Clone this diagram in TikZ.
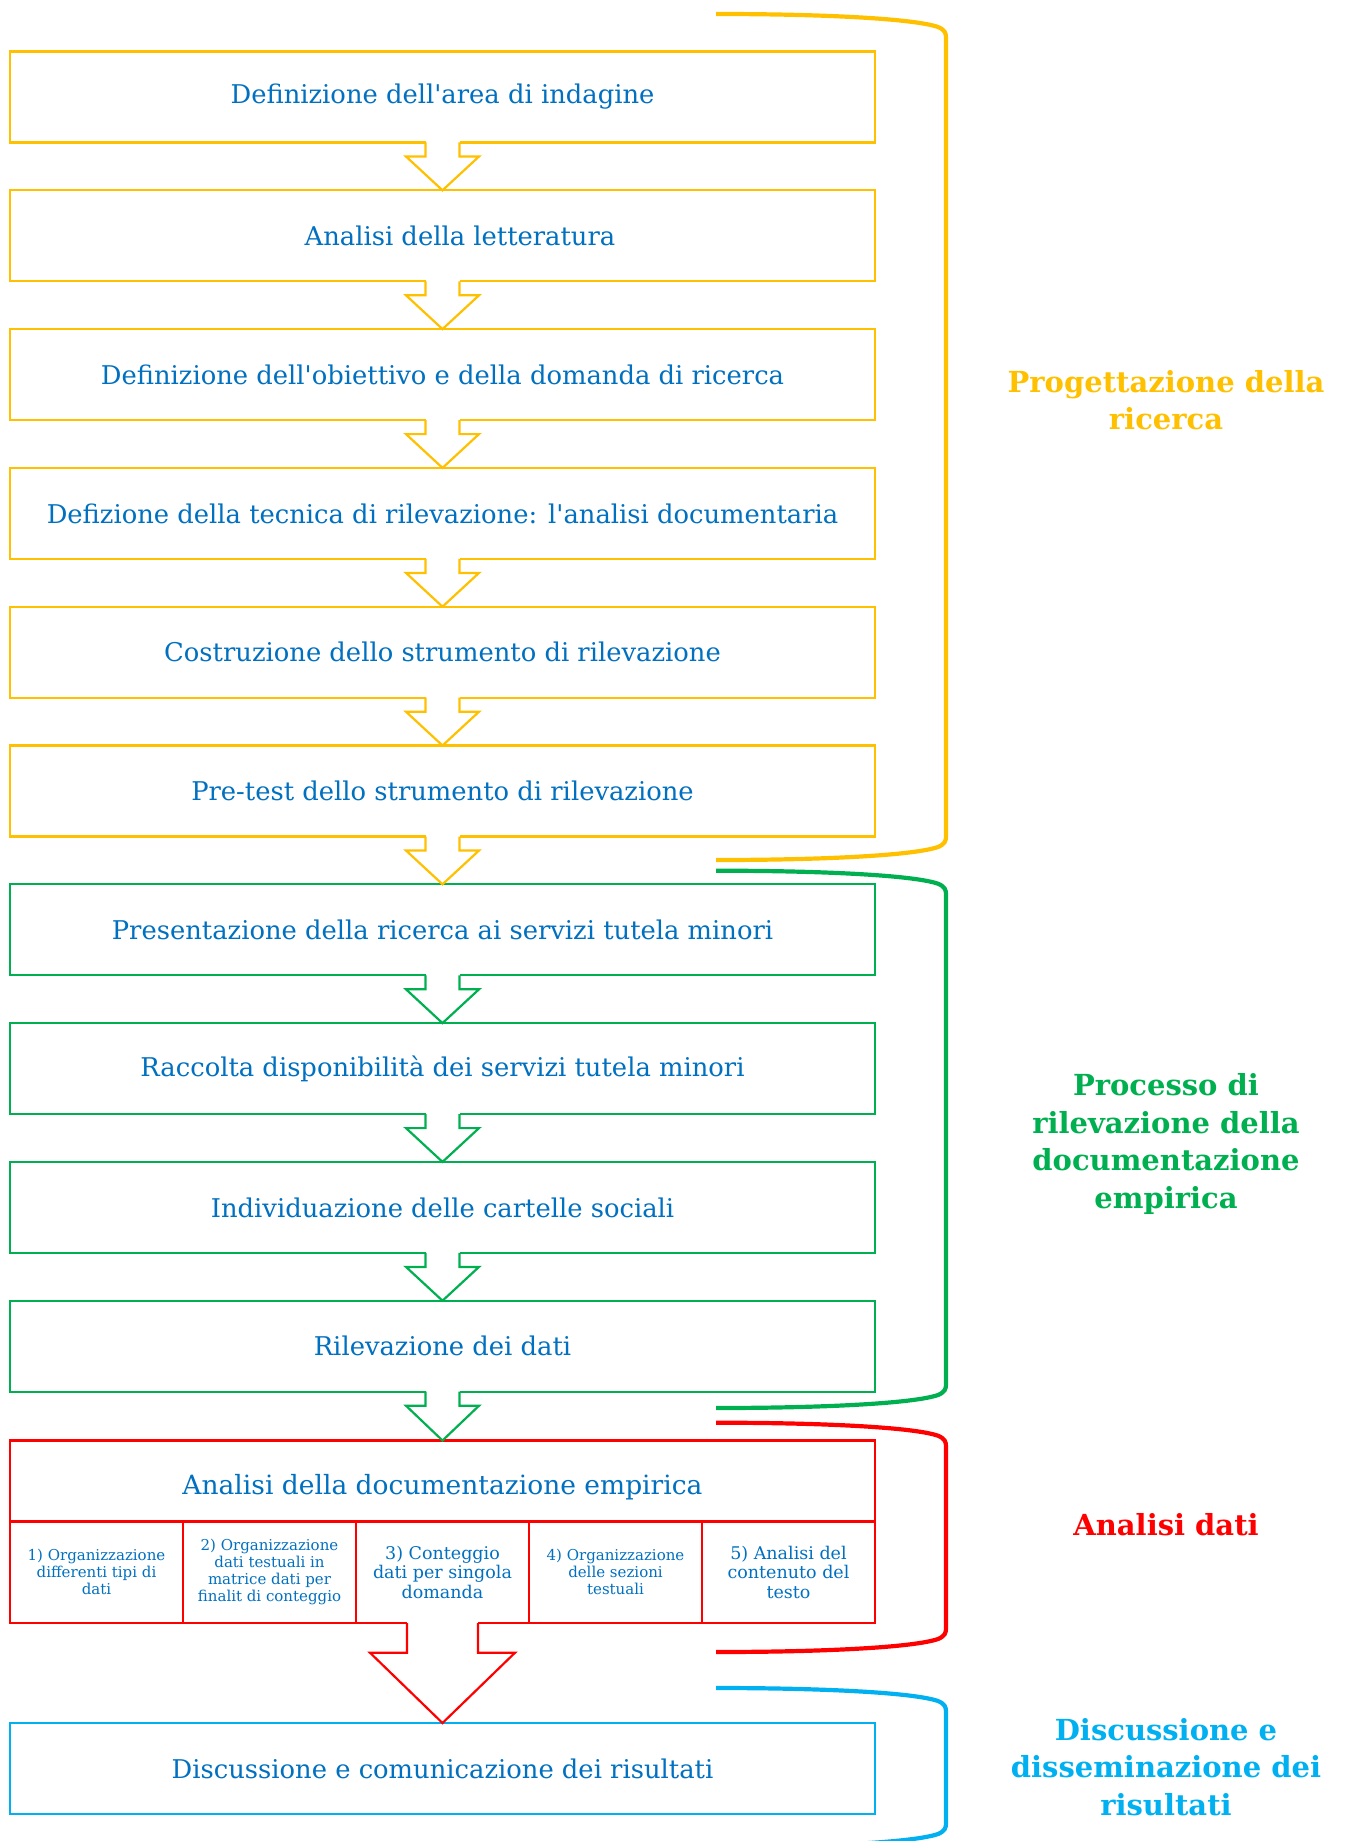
\documentclass[tikz,border=0pt]{standalone}
\usepackage{fontspec}
\newfontfamily\dvserif{DejaVu Serif}
\usetikzlibrary{calc}

\definecolor{phaseyellow}{HTML}{FFC000}
\definecolor{phasegreen}{HTML}{00B050}
\definecolor{phasered}{HTML}{FF0000}
\definecolor{phaseblue}{HTML}{00B0F0}
\definecolor{steptext}{HTML}{0070C0}

\tikzset{
  stepbox/.style={draw=#1, line width=2.2pt, fill=white,
    minimum width=865pt, minimum height=91pt, inner sep=0pt, outer sep=0pt,
    text=steptext, font=\dvserif\fontsize{25.8}{30}\selectfont},
  headbox/.style={draw=phasered, line width=2.8pt, fill=white,
    minimum width=865pt, minimum height=81pt, inner sep=0pt, outer sep=0pt,
    text=steptext, text height=33pt, text depth=6pt,
    font=\dvserif\fontsize{26.5}{30}\selectfont},
  subcell/.style={draw=phasered, line width=2.8pt, fill=white,
    minimum width=173pt, minimum height=101.5pt, inner sep=0pt, outer sep=0pt,
    text=steptext, align=center, font=\dvserif\fontsize{15}{17}\selectfont},
  subcellbig/.style={subcell, font=\dvserif\fontsize{17.5}{19.5}\selectfont},
  phaselabel/.style={text=#1, align=center, inner sep=0pt,
    font=\dvserif\bfseries\fontsize{29}{37.5}\selectfont},
}

% block arrow leaving the bottom of #1 and pointing at the top of #2
% #3 colour, #4 stem half width, #5 head half width, #6 stem length
\newcommand\flowarrow[6]{%
  \fill[white] ($(#1.south)+(-#4,-1.8)$) rectangle ($(#1.south)+(#4,1.8)$);
  \draw[#3, line width=2.2pt, line join=miter]
    ($(#1.south)+(-#4,0)$) -- ($(#1.south)+(-#4,#6)$) -- ($(#1.south)+(-#5,#6)$)
    -- (#2.north) -- ($(#1.south)+(#5,#6)$) -- ($(#1.south)+(#4,#6)$)
    -- ($(#1.south)+(#4,0)$);
}

% bracket on the right grouping the steps of one phase: colour, top, bottom
\newcommand\phasebrace[3]{%
  \draw[#1, line width=4.2pt]
    (716,#2) .. controls (830,#2) and (915,#2+5) .. (938,#2+13)
    .. controls (945,#2+16) and (946,#2+19) .. (946,#2+24)
    -- (946,#3-24)
    .. controls (946,#3-19) and (945,#3-16) .. (938,#3-13)
    .. controls (915,#3-5) and (830,#3) .. (716,#3);
}

\begin{document}
\begin{tikzpicture}[x=1pt,y=-1pt]
\useasboundingbox (0,0) rectangle (1344,1841);

% phase 1: research design
\node[stepbox=phaseyellow] (s1) at (442.5,97)    {Definizione dell'area di indagine};
\node[stepbox=phaseyellow] (s2) at (442.5,235.8) {\hspace*{35pt}Analisi della letteratura};
\node[stepbox=phaseyellow] (s3) at (442.5,374.6) {Definizione dell'obiettivo e della domanda di ricerca};
\node[stepbox=phaseyellow] (s4) at (442.5,513.4) {Defizione della tecnica di rilevazione: l'analisi documentaria};
\node[stepbox=phaseyellow] (s5) at (442.5,652.2) {Costruzione dello strumento di rilevazione};
\node[stepbox=phaseyellow] (s6) at (442.5,791)   {Pre-test dello strumento di rilevazione};

% phase 2: data collection
\node[stepbox=phasegreen] (s7)  at (442.5,929.8)  {Presentazione della ricerca ai servizi tutela minori};
\node[stepbox=phasegreen] (s8)  at (442.5,1068.6) {Raccolta disponibilità dei servizi tutela minori};
\node[stepbox=phasegreen] (s9)  at (442.5,1207.4) {Individuazione delle cartelle sociali};
\node[stepbox=phasegreen] (s10) at (442.5,1346.2) {Rilevazione dei dati};

% phase 3: data analysis
\node[headbox] (hdr) at (442.5,1481) {Analisi della documentazione empirica};
\node[subcell]    (c1) at (96.5,1572.25)  {1) Organizzazione\\differenti tipi di\\dati};
\node[subcell]    (c2) at (269.5,1572.25) {2) Organizzazione\\dati testuali in\\matrice dati per\\finalit di conteggio};
\node[subcellbig] (c3) at (442.5,1572.25) {3) Conteggio\\dati per singola\\domanda};
\node[subcell]    (c4) at (615.5,1572.25) {4) Organizzazione\\delle sezioni\\testuali};
\node[subcellbig] (c5) at (788.5,1572.25) {5) Analisi del\\contenuto del\\testo};

% phase 4: dissemination
\node[stepbox=phaseblue] (s11) at (442.5,1768.5) {Discussione e comunicazione dei risultati};

% arrows between steps
\flowarrow{s1}{s2}{phaseyellow}{17}{36.5}{14}
\flowarrow{s2}{s3}{phaseyellow}{17}{36.5}{14}
\flowarrow{s3}{s4}{phaseyellow}{17}{36.5}{14}
\flowarrow{s4}{s5}{phaseyellow}{17}{36.5}{14}
\flowarrow{s5}{s6}{phaseyellow}{17}{36.5}{14}
\flowarrow{s6}{s7}{phaseyellow}{17}{36.5}{14}
\flowarrow{s7}{s8}{phasegreen}{17}{36.5}{14}
\flowarrow{s8}{s9}{phasegreen}{17}{36.5}{14}
\flowarrow{s9}{s10}{phasegreen}{17}{36.5}{14}
\flowarrow{s10}{hdr}{phasegreen}{17}{36.5}{14}
\flowarrow{c3}{s11}{phasered}{35.5}{72.5}{29.7}

% phase brackets
\phasebrace{phaseyellow}{14}{860}
\phasebrace{phasegreen}{870.7}{1408}
\phasebrace{phasered}{1422.7}{1652}
\phasebrace{phaseblue}{1688}{1847}

% phase labels
\node[phaselabel=phaseyellow] (l1) at (1166,400)  {Progettazione della\\ricerca};
\node[phaselabel=phasegreen]  (l2) at (1166,1144) {Processo di\\rilevazione della\\documentazione\\empirica};
\node[phaselabel=phasered]    (l3) at (1166,1525) {Analisi dati};
\node[phaselabel=phaseblue]   (l4) at (1166,1767) {Discussione e\\disseminazione dei\\risultati};
\end{tikzpicture}
\end{document}
